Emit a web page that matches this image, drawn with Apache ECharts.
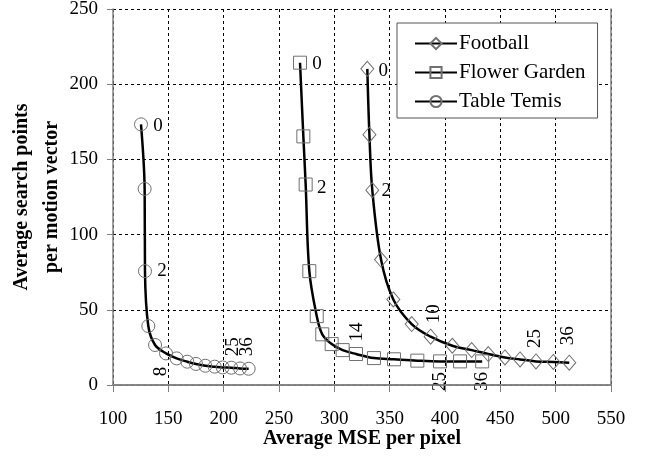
<!DOCTYPE html>
<html>
<head>
<meta charset="utf-8">
<script src="https://cdn.jsdelivr.net/npm/echarts@6/dist/echarts.min.js"></script>
<style>
html,body{margin:0;padding:0;background:#fff;}
#chart{width:649px;height:460px;}
</style>
</head>
<body>
<div id="chart"></div>
<script>
// ---- Data ----
var seriesNames = ['Football', 'Flower Garden', 'Table Temis'];

var footballX = [329.8, 331.7, 334.3, 342.2, 353.3, 369.9, 387.0, 406.6, 424.1, 439.1, 454.2, 467.8, 482.2, 497.9, 512.3];
var footballY = [210.2, 166.4, 129.5, 83.4, 56.9, 40.5, 32.1, 26.1, 23.2, 20.6, 18.3, 17.0, 15.7, 15.3, 14.8];

var flowerX = [269.0, 272.0, 274.1, 277.4, 284.1, 289.1, 297.6, 307.5, 319.6, 335.8, 353.9, 375.0, 395.5, 413.6, 433.6];
var flowerY = [214.3, 165.3, 133.3, 75.7, 45.8, 33.7, 27.2, 23.2, 20.6, 17.9, 17.1, 16.2, 15.7, 15.7, 15.7];

var tennisX = [125.3, 128.6, 128.9, 131.9, 138.0, 147.9, 157.5, 167.1, 175.0, 183.4, 191.9, 199.1, 206.9, 214.8, 222.6];
var tennisY = [173.3, 130.4, 75.7, 39.2, 26.6, 21.0, 17.7, 15.5, 14.0, 12.8, 12.2, 11.7, 11.5, 11.0, 10.8];

// point annotations: index -> text
var footballNotes = {0: '0', 2: '2', 6: '10', 12: '25', 14: '36'};
var flowerNotes   = {0: '0', 2: '2', 8: '14', 12: '25', 14: '36'};
var tennisNotes   = {0: '0', 2: '2', 5: '8', 12: '25', 14: '36'};

var xTicks = [100, 150, 200, 250, 300, 350, 400, 450, 500, 550];
var yTicks = [0, 50, 100, 150, 200, 250];

// ---- presentation ----
var SERIF = '"Liberation Serif", "Times New Roman", serif';
// screen offsets [dx, dy] of label centre from marker centre, and rotation
var noteStyle = {
  football: {0: [16, 2, 0], 2: [14, 1, 0], 6: [3, -23, 90], 12: [-1, -23, 90], 14: [-1, -27, 90]},
  flower:   {0: [17, 1, 0], 2: [16, 3, 0], 8: [1, -22, 90], 12: [0, 20, 90], 14: [0, 20, 90]},
  tennis:   {0: [17, 2, 0], 2: [17, 0, 0], 5: [-5, 18, 90], 12: [2, -21, 90], 14: [-2, -22, 90]}
};

function build(xs, ys, notes, styles) {
  return xs.map(function (x, i) {
    var d = {value: [x, ys[i]]};
    if (notes[i] !== undefined) {
      var s = styles[i];
      // offset is applied in the label's rotated frame
      var off = s[2] === 90 ? [-s[1], s[0]] : [s[0], s[1]];
      d.label = {
        show: true, formatter: notes[i], position: 'inside',
        offset: off, rotate: s[2], align: 'center', verticalAlign: 'middle',
        color: '#000', fontFamily: SERIF, fontSize: 19
      };
    }
    return d;
  });
}

function mkSeries(name, data, symbol, size) {
  return {
    name: name, type: 'line', data: data,
    smooth: 0.35,
    symbol: symbol, symbolSize: size,
    showAllSymbol: true,
    lineStyle: {color: '#000', width: 2.5},
    itemStyle: {color: 'rgba(255,255,255,0)', borderColor: '#707070', borderWidth: 1},
    label: {show: false},
    emphasis: {disabled: true},
    animation: false,
    z: 3
  };
}

var chart = echarts.init(document.getElementById('chart'), null, {renderer: 'canvas'});

var option = {
  backgroundColor: '#fff',
  animation: false,
  grid: {left: 113, right: 38, top: 9, bottom: 75, containLabel: false, outerBoundsMode: 'none', show: false},
  legend: {
    data: seriesNames,
    orient: 'vertical',
    left: 397, top: 23,
    padding: [10, 12, 6, 17],
    itemWidth: 42, itemHeight: 14, itemGap: 8,
    backgroundColor: '#fff',
    borderColor: '#555', borderWidth: 1,
    textStyle: {fontFamily: SERIF, fontSize: 21, color: '#000', padding: [0, 0, 0, -3]},
    selectedMode: false
  },
  xAxis: [{
    type: 'value', min: 100, max: 550, interval: 50,
    name: 'Average MSE per pixel', nameLocation: 'middle', nameGap: 44, nameMoveOverlap: false,
    nameTextStyle: {fontFamily: SERIF, fontSize: 20, fontWeight: 'bold', color: '#000'},
    axisLine: {show: true, lineStyle: {color: '#808080', width: 1.5}},
    axisTick: {show: true, inside: false, length: 7, lineStyle: {color: '#808080', width: 1}},
    axisLabel: {fontFamily: SERIF, fontSize: 19, color: '#000', margin: 25,
      formatter: function (v) { return xTicks.indexOf(v) >= 0 ? String(v) : ''; }},
    splitLine: {show: true, lineStyle: {color: '#000', width: 1, type: [3, 3]}}
  }, {
    type: 'value', min: 100, max: 550, position: 'top', z: 5,
    axisLine: {show: true, lineStyle: {color: '#808080', width: 1.5}},
    axisTick: {show: false}, axisLabel: {show: false}, splitLine: {show: false}
  }],
  yAxis: [{
    type: 'value', min: 0, max: 250, interval: 50,
    name: 'Average search points\nper motion vector', nameLocation: 'middle', nameGap: 46, nameMoveOverlap: false,
    nameTextStyle: {fontFamily: SERIF, fontSize: 20, fontWeight: 'bold', color: '#000', lineHeight: 30, align: 'center'},
    axisLine: {show: true, lineStyle: {color: '#808080', width: 1.5}},
    axisTick: {show: true, inside: false, length: 6, lineStyle: {color: '#808080', width: 1}},
    axisLabel: {fontFamily: SERIF, fontSize: 19, color: '#000', margin: 15,
      formatter: function (v) { return yTicks.indexOf(v) >= 0 ? String(v) : ''; }},
    splitLine: {show: true, lineStyle: {color: '#000', width: 1, type: [3, 3]}}
  }, {
    type: 'value', min: 0, max: 250, position: 'right', z: 5,
    axisLine: {show: true, lineStyle: {color: '#808080', width: 1.5}},
    axisTick: {show: false}, axisLabel: {show: false}, splitLine: {show: false}
  }],
  series: [
    mkSeries(seriesNames[0], build(footballX, footballY, footballNotes, noteStyle.football), 'diamond', [13, 15]),
    mkSeries(seriesNames[1], build(flowerX, flowerY, flowerNotes, noteStyle.flower), 'rect', 13),
    mkSeries(seriesNames[2], build(tennisX, tennisY, tennisNotes, noteStyle.tennis), 'circle', 13)
  ]
};
chart.setOption(option);
</script>
</body>
</html>
